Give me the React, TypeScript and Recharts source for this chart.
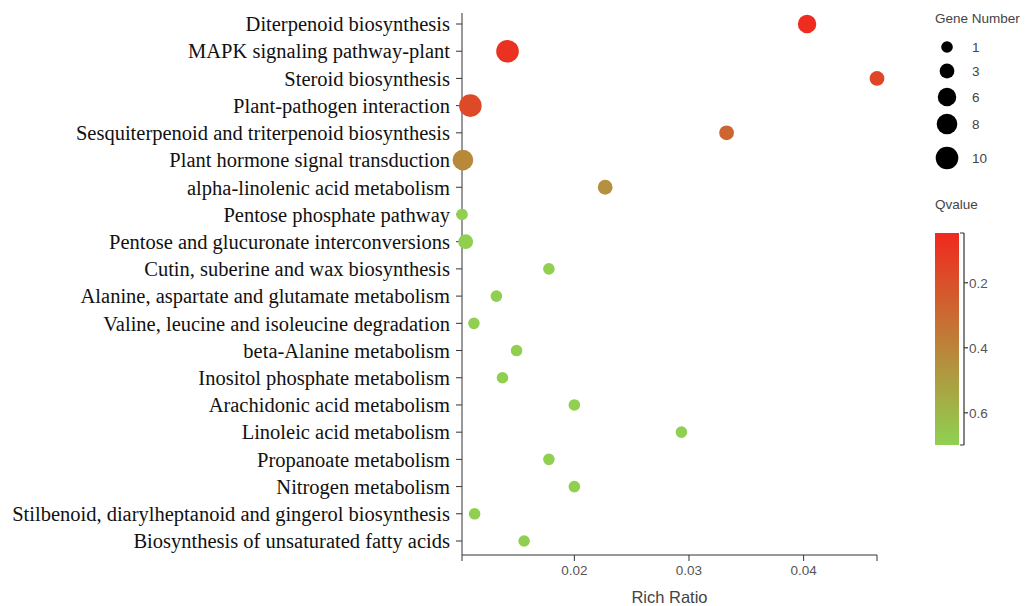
import React from 'react';
import { ScatterChart, Scatter, XAxis, YAxis, ZAxis, Cell } from 'recharts';

const pathways = [
  'Diterpenoid biosynthesis',
  'MAPK signaling pathway-plant',
  'Steroid biosynthesis',
  'Plant-pathogen interaction',
  'Sesquiterpenoid and triterpenoid biosynthesis',
  'Plant hormone signal transduction',
  'alpha-linolenic acid metabolism',
  'Pentose phosphate pathway',
  'Pentose and glucuronate interconversions',
  'Cutin, suberine and wax biosynthesis',
  'Alanine, aspartate and glutamate metabolism',
  'Valine, leucine and isoleucine degradation',
  'beta-Alanine metabolism',
  'Inositol phosphate metabolism',
  'Arachidonic acid metabolism',
  'Linoleic acid metabolism',
  'Propanoate metabolism',
  'Nitrogen metabolism',
  'Stilbenoid, diarylheptanoid and gingerol biosynthesis',
  'Biosynthesis of unsaturated fatty acids',
];

const richRatio = [
  0.0403, 0.01417, 0.0464, 0.01093, 0.03328, 0.01028, 0.02269, 0.0102, 0.01052, 0.01778,
  0.0132, 0.01124, 0.01496, 0.01373, 0.02, 0.02934, 0.01778, 0.02, 0.0113, 0.01562,
];

const geneNumber = [6, 10, 3, 10, 3, 8, 3, 1, 3, 1, 1, 1, 1, 1, 1, 1, 1, 1, 1, 1];

const qValue = [
  0.06, 0.08, 0.16, 0.17, 0.28, 0.42, 0.45, 0.69, 0.69, 0.69,
  0.69, 0.69, 0.69, 0.69, 0.69, 0.69, 0.69, 0.69, 0.69, 0.69,
];

const xTicks = [0.02, 0.03, 0.04];
const sizeLegendValues = [1, 3, 6, 8, 10];
const qTicks = [0.2, 0.4, 0.6];
const qDomain = [0.047, 0.699];
const geneDomain = [1, 10];
const sizeRange = [106, 401];

const RED = [240, 41, 30];
const GREEN = [143, 209, 81];

function qColor(q: number): string {
  const t = Math.max(0, Math.min(1, (q - qDomain[0]) / (qDomain[1] - qDomain[0])));
  const c = RED.map((r, i) => Math.round(r + (GREEN[i] - r) * t));
  return `rgb(${c[0]},${c[1]},${c[2]})`;
}

const data = pathways.map((p, i) => ({
  pathway: p,
  ratio: richRatio[i],
  genes: geneNumber[i],
  q: qValue[i],
}));

const minRatio = Math.min(...richRatio);
const maxRatio = Math.max(...richRatio);
const allXTicks = [minRatio, ...xTicks, maxRatio];

function sizeToRadius(n: number): number {
  const area = sizeRange[0] + ((n - geneDomain[0]) / (geneDomain[1] - geneDomain[0])) * (sizeRange[1] - sizeRange[0]);
  return Math.sqrt(area / Math.PI);
}

const SANS = 'Liberation Sans, Arial, sans-serif';

const Legends = () => {
  const barTop = 233;
  const barBottom = 445;
  const qy = (q: number) => barTop + ((q - qDomain[0]) / (qDomain[1] - qDomain[0])) * (barBottom - barTop);
  const sizeY = [47, 71, 97, 124, 158];
  return (
    <svg width={1025} height={606} style={{ position: 'absolute', left: 0, top: 0, pointerEvents: 'none' }}>
      <defs>
        <linearGradient id="qgrad" x1="0" y1="0" x2="0" y2="1">
          <stop offset="0%" stopColor={qColor(qDomain[0])} />
          <stop offset="100%" stopColor={qColor(qDomain[1])} />
        </linearGradient>
      </defs>
      <text x={935} y={23} fontFamily={SANS} fontSize={13.5} fill="#444">Gene Number</text>
      {sizeLegendValues.map((v, i) => (
        <g key={v}>
          <circle cx={947} cy={sizeY[i]} r={sizeToRadius(v)} fill="#000" />
          <text x={972} y={sizeY[i] + 5} fontFamily={SANS} fontSize={13.5} fill="#444">{v}</text>
        </g>
      ))}
      <text x={935} y={209} fontFamily={SANS} fontSize={13.5} fill="#444">Qvalue</text>
      <rect x={935} y={barTop} width={24} height={barBottom - barTop} fill="url(#qgrad)" />
      <path d={`M960,${barTop} H964 M964,${barTop} V${barBottom} M960,${barBottom} H964`} stroke="#333" strokeWidth={1.2} fill="none" />
      {qTicks.map((t) => (
        <g key={t}>
          <line x1={964} x2={968} y1={qy(t)} y2={qy(t)} stroke="#333" strokeWidth={1.2} />
          <text x={969} y={qy(t) + 5} fontFamily={SANS} fontSize={13.5} fill="#555">{t}</text>
        </g>
      ))}
    </svg>
  );
};

export default function App() {
  return (
    <div style={{ position: 'absolute', left: 0, top: 0, width: 1025, height: 606, background: '#fff' }}>
      <ScatterChart width={1025} height={606} margin={{ top: 13, right: 148, bottom: 0, left: 0 }}>
        <XAxis
          type="number"
          dataKey="ratio"
          domain={[minRatio, maxRatio]}
          ticks={allXTicks}
          interval={0}
          tickFormatter={(v: number) => (xTicks.includes(v) ? String(v) : '')}
          height={51}
          tickSize={6}
          tickMargin={4}
          stroke="#333"
          tick={{ fill: '#555', fontSize: 13.5, fontFamily: SANS }}
          label={{ value: 'Rich Ratio', position: 'insideBottom', offset: 3, fill: '#444', fontSize: 16.5, fontFamily: SANS }}
        />
        <YAxis
          type="category"
          dataKey="pathway"
          scale="point"
          reversed
          allowDuplicatedCategory={false}
          interval={0}
          width={462}
          padding={{ top: 11, bottom: 14 }}
          tickSize={6}
          tickMargin={6}
          stroke="#333"
          tick={{ fill: '#111', fontSize: 20.5, fontFamily: 'Liberation Serif, Times New Roman, serif' }}
        />
        <ZAxis type="number" dataKey="genes" domain={geneDomain} range={sizeRange} />
        <Scatter data={data} isAnimationActive={false}>
          {data.map((d, i) => (
            <Cell key={i} fill={qColor(d.q)} />
          ))}
        </Scatter>
      </ScatterChart>
      <Legends />
    </div>
  );
}
